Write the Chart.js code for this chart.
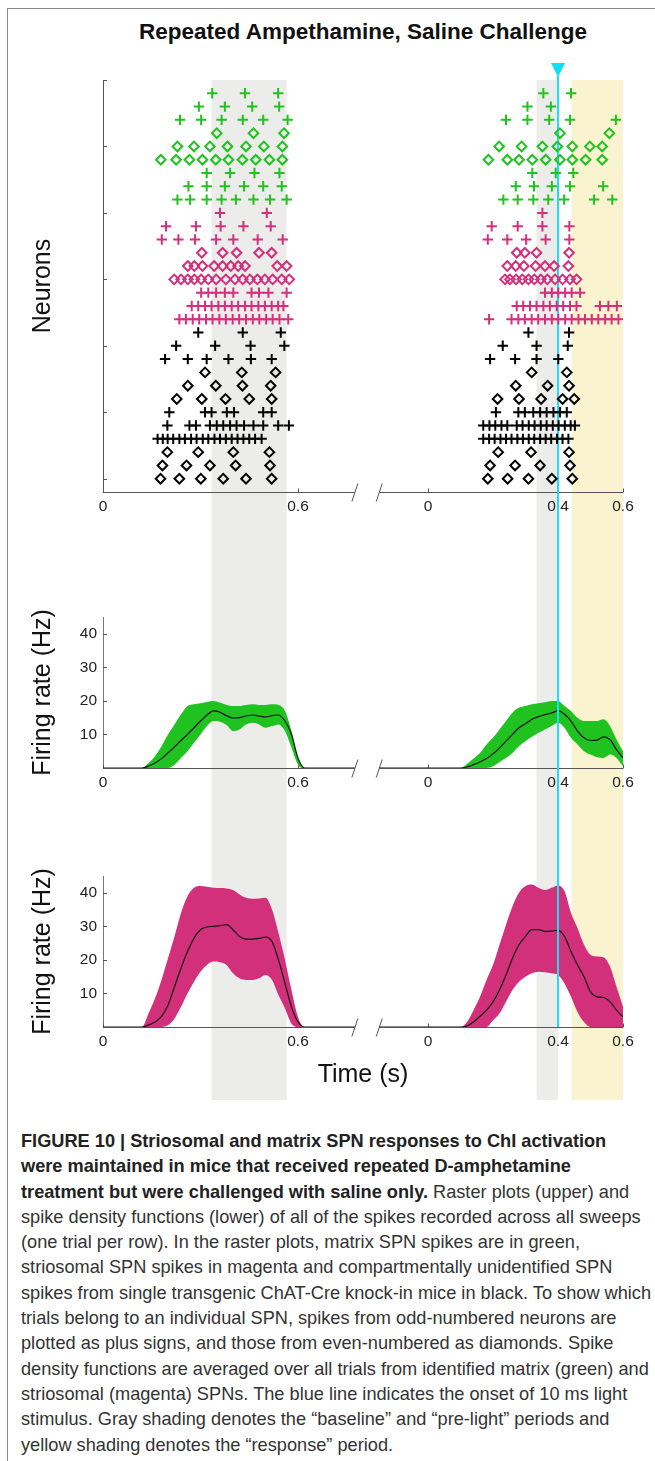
<!DOCTYPE html>
<html>
<head>
<meta charset="utf-8">
<title>Repeated Ampethamine, Saline Challenge</title>
<script src="https://cdn.jsdelivr.net/npm/chart.js@4.4.1/dist/chart.umd.min.js"></script>
<style>
  html, body { margin: 0; padding: 0; background: #fff; }
  #figure { position: relative; width: 655px; height: 1461px; overflow: hidden; font-family: "Liberation Sans", Arial, sans-serif; }
  #frame { position: absolute; left: 7px; top: 8px; width: 700px; height: 1500px; border-top: 1px solid #8a8a8a; border-left: 1px solid #8a8a8a; }
  #title { position: absolute; left: 103px; width: 520px; top: 19px; text-align: center; font-weight: bold; font-size: 22.5px; line-height: 26px; color: #111; }
  canvas { position: absolute; left: 0; }
  #caption { position: absolute; left: 21px; top: 1129px; font-size: 18.2px; line-height: 25.3px; color: #333; white-space: nowrap; }
  #caption b { color: #222; }
</style>
</head>
<body>
<div id="figure">
  <div id="frame"></div>
  <div id="title">Repeated Ampethamine, Saline Challenge</div>
  <canvas id="raster" width="655" height="510" style="top:50px"></canvas>
  <canvas id="matrixRate" width="655" height="240" style="top:560px"></canvas>
  <canvas id="strioRate" width="655" height="300" style="top:800px"></canvas>
  <div id="caption"><b>FIGURE 10 | Striosomal and matrix SPN responses to ChI activation<br>were maintained in mice that received repeated D-amphetamine<br>treatment but were challenged with saline only.</b> Raster plots (upper) and<br>spike density functions (lower) of all of the spikes recorded across all sweeps<br>(one trial per row). In the raster plots, matrix SPN spikes are in green,<br>striosomal SPN spikes in magenta and compartmentally unidentified SPN<br>spikes from single transgenic ChAT-Cre knock-in mice in black. To show which<br>trials belong to an individual SPN, spikes from odd-numbered neurons are<br>plotted as plus signs, and those from even-numbered as diamonds. Spike<br>density functions are averaged over all trials from identified matrix (green) and<br>striosomal (magenta) SPNs. The blue line indicates the onset of 10 ms light<br>stimulus. Gray shading denotes the “baseline” and “pre-light” periods and<br>yellow shading denotes the “response” period.</div>
</div>

<script>
// ---- data ----
const leftTicks = [0, 0.6];
const rightTicks = [0, 0.4, 0.6];
const rasterRowTicks = [0, 5, 10, 15, 20, 25, 30];
const rateTicks = [10, 20, 30, 40];

const baselineWindow = [0.334, 0.565];
const prelightWindow = [0.334, 0.4];
const responseWindow = [0.442, 0.6];
const lightOnset = 0.4;

// one entry per neuron, 3 trials (rows) each, top to bottom
const trialsPerNeuron = 3;
const neuronType = ['matrix', 'matrix', 'matrix', 'striosome', 'striosome', 'striosome',
  'unidentified', 'unidentified', 'unidentified', 'unidentified'];

// spike times (s), one array per row, left block
const spikesBaseline = [
  [0.336, 0.437, 0.539],
  [0.295, 0.375, 0.459, 0.542],
  [0.237, 0.302, 0.365, 0.430, 0.493, 0.568],
  [0.350, 0.463, 0.557],
  [0.229, 0.280, 0.329, 0.383, 0.440, 0.495, 0.552],
  [0.178, 0.225, 0.266, 0.306, 0.347, 0.386, 0.429, 0.470, 0.512, 0.552],
  [0.319, 0.391, 0.466, 0.543],
  [0.263, 0.319, 0.375, 0.434, 0.493, 0.550],
  [0.229, 0.268, 0.319, 0.365, 0.409, 0.463, 0.514, 0.565],
  [0.360, 0.504],
  [0.194, 0.286, 0.362, 0.432, 0.516],
  [0.181, 0.232, 0.283, 0.348, 0.401, 0.476, 0.553],
  [0.304, 0.368, 0.411, 0.480, 0.519],
  [0.261, 0.281, 0.306, 0.342, 0.368, 0.393, 0.416, 0.437, 0.536, 0.565],
  [0.219, 0.240, 0.261, 0.281, 0.302, 0.324, 0.348, 0.378, 0.406, 0.430, 0.452, 0.475, 0.498, 0.522, 0.550, 0.573],
  [0.302, 0.324, 0.348, 0.375, 0.401, 0.457, 0.480, 0.509, 0.565],
  [0.273, 0.293, 0.314, 0.334, 0.355, 0.375, 0.396, 0.416, 0.437, 0.457, 0.478, 0.498, 0.519, 0.539, 0.555],
  [0.235, 0.255, 0.276, 0.296, 0.317, 0.337, 0.358, 0.378, 0.399, 0.419, 0.440, 0.461, 0.481, 0.502, 0.522, 0.543, 0.570],
  [0.293, 0.430, 0.547],
  [0.225, 0.345, 0.454, 0.558],
  [0.191, 0.261, 0.319, 0.386, 0.455, 0.519],
  [0.314, 0.427, 0.531],
  [0.261, 0.347, 0.429, 0.516],
  [0.227, 0.304, 0.377, 0.450, 0.519],
  [0.204, 0.314, 0.334, 0.381, 0.403, 0.493, 0.519],
  [0.198, 0.266, 0.286, 0.329, 0.350, 0.370, 0.391, 0.411, 0.434, 0.463, 0.493, 0.539, 0.572],
  [0.168, 0.184, 0.199, 0.216, 0.235, 0.252, 0.271, 0.288, 0.307, 0.324, 0.343, 0.360, 0.378, 0.396, 0.414, 0.432, 0.450, 0.468, 0.488],
  [0.198, 0.293, 0.401, 0.512],
  [0.183, 0.257, 0.329, 0.408, 0.514],
  [0.177, 0.235, 0.301, 0.370, 0.440, 0.519]
];

// spike times (s), right block (light stimulus at 0.4 s)
const spikesChallenge = [
  [0.355, 0.440],
  [0.306, 0.378],
  [0.240, 0.306, 0.373, 0.437, 0.578],
  [0.406, 0.558],
  [0.219, 0.288, 0.352, 0.398, 0.444, 0.498, 0.536],
  [0.186, 0.244, 0.280, 0.321, 0.362, 0.406, 0.444, 0.485, 0.536],
  [0.321, 0.393, 0.447],
  [0.270, 0.326, 0.381, 0.437, 0.539],
  [0.232, 0.276, 0.324, 0.370, 0.419, 0.511, 0.567],
  [0.352],
  [0.196, 0.276, 0.352, 0.435],
  [0.184, 0.244, 0.302, 0.362, 0.435],
  [0.273, 0.298, 0.334, 0.434],
  [0.244, 0.270, 0.295, 0.331, 0.360, 0.388, 0.432],
  [0.237, 0.252, 0.271, 0.290, 0.309, 0.327, 0.347, 0.367, 0.391, 0.414, 0.437, 0.457],
  [0.360, 0.381, 0.401, 0.422, 0.442, 0.468],
  [0.273, 0.293, 0.314, 0.334, 0.355, 0.375, 0.396, 0.416, 0.437, 0.457, 0.529, 0.555, 0.581],
  [0.188, 0.257, 0.278, 0.298, 0.319, 0.339, 0.360, 0.381, 0.401, 0.422, 0.442, 0.463, 0.483, 0.504, 0.524, 0.545, 0.565, 0.586],
  [0.309, 0.434],
  [0.230, 0.334, 0.430],
  [0.191, 0.268, 0.334, 0.401],
  [0.319, 0.427],
  [0.270, 0.368, 0.434],
  [0.214, 0.280, 0.348, 0.414, 0.450],
  [0.209, 0.278, 0.298, 0.324, 0.345, 0.365, 0.386, 0.406, 0.427],
  [0.170, 0.189, 0.207, 0.226, 0.244, 0.273, 0.291, 0.310, 0.328, 0.347, 0.365, 0.384, 0.402, 0.421, 0.439, 0.452],
  [0.170, 0.188, 0.205, 0.223, 0.240, 0.257, 0.275, 0.292, 0.310, 0.327, 0.345, 0.362, 0.379, 0.397, 0.414, 0.432],
  [0.216, 0.317, 0.434],
  [0.191, 0.268, 0.345, 0.437],
  [0.184, 0.245, 0.309, 0.381, 0.444]
];

// spike density functions (Hz): mean and upper/lower band
const sdfTimeLeft = [0, 0.10, 0.12, 0.14, 0.16, 0.18, 0.20, 0.22, 0.24, 0.26, 0.28, 0.30, 0.32, 0.34, 0.36,
  0.38, 0.40, 0.42, 0.44, 0.46, 0.48, 0.50, 0.52, 0.54, 0.56, 0.58, 0.60, 0.62, 0.64, 0.775];
const sdfTimeRight = [-0.15, 0, 0.10, 0.12, 0.14, 0.16, 0.18, 0.20, 0.22, 0.24, 0.26, 0.28, 0.30, 0.32,
  0.34, 0.36, 0.38, 0.40, 0.42, 0.44, 0.46, 0.48, 0.50, 0.52, 0.54, 0.56, 0.58, 0.60];

const matrixMeanLeft = [0, 0, 0, 0.6, 1.5, 2.8, 4.5, 6.3, 8.2, 10, 12, 14, 15.8, 17, 16.6, 15.6, 14.9, 15, 15.5, 15.8, 15.5, 15.2, 15.6, 15.8, 14, 10, 3, 0, 0, 0];
const matrixUpperLeft = [0, 0, 0, 1.5, 3.5, 6.5, 10, 13, 16, 18.5, 19, 19.3, 19.7, 20, 19.5, 18.8, 18.5, 18.5, 18.8, 19, 18.8, 18.8, 19, 18.8, 17, 11, 3, 0, 0, 0];
const matrixLowerLeft = [0, 0, 0, 0, 0, 0, 0, 1, 3, 5, 7.5, 10, 12.5, 14, 13.8, 12.8, 11, 11.5, 13, 13.5, 13, 12, 12.5, 13, 11, 6, 1, 0, 0, 0];
const matrixMeanRight = [0, 0, 0, 0.3, 1, 1.8, 2.8, 4.2, 6, 8, 10, 12, 13.2, 14.5, 15.3, 15.9, 16.4, 17, 16, 14, 11, 9, 8.2, 8.3, 9.3, 8.5, 5.5, 3];
const matrixUpperRight = [0, 0, 0, 1.2, 2.8, 4.5, 7, 9, 11.5, 14, 16.5, 18, 18.5, 19, 19.3, 19.6, 20, 20, 18.5, 17, 15, 14, 14, 14, 14.5, 12.5, 8.5, 5];
const matrixLowerRight = [0, 0, 0, 0, 0, 0, 0, 0.5, 1.8, 3, 4.5, 6.5, 8, 9.3, 10.5, 11.5, 12.5, 13.5, 12, 9, 7, 5, 4, 3.2, 3, 4, 3, 0.5];

const strioMeanLeft = [0, 0, 0, 0.6, 1.5, 3.2, 6.5, 12, 17.5, 22.5, 26.5, 29, 29.8, 30, 30.2, 30.5, 29, 27, 26.2, 26.2, 26.4, 26.8, 25.5, 20, 13, 6, 1.5, 0, 0, 0];
const strioUpperLeft = [0, 0, 0, 4, 8.5, 14, 20.5, 27, 34, 39, 41.5, 42, 41.8, 41.5, 41.4, 41.3, 40.8, 39.5, 38.5, 38.2, 38.3, 38.5, 35, 28, 20, 11, 3, 0, 0, 0];
const strioLowerLeft = [0, 0, 0, 0, 0, 0, 0.5, 2.5, 6, 10, 13.5, 16.5, 18.5, 19.5, 19.3, 18.5, 16, 14.5, 14, 14, 14.5, 15.5, 14, 9.5, 5.5, 1, 0, 0, 0, 0];
const strioMeanRight = [0, 0, 0, 0.3, 1.5, 3.2, 5, 7.5, 11, 15.5, 20.5, 24.5, 27, 29, 29, 28.5, 28.6, 28.8, 27, 22.5, 18.5, 15, 10.5, 9, 8.8, 7.5, 5, 3];
const strioUpperRight = [0, 0, 0, 1.5, 5, 9, 14, 18.5, 24.5, 30.5, 36, 40, 42, 42.5, 41.5, 40.8, 41.5, 42.2, 40.5, 34, 29.5, 24.5, 21.5, 21, 20.8, 18, 12, 6];
const strioLowerRight = [0, 0, 0, 0, 0, 0, 0, 2, 4, 7.5, 11, 13.5, 15, 16, 16.5, 16.3, 16, 15.5, 13, 9, 4.5, 1.5, 0, 0, 0, 0, 0, 0];

// ---- layout of the broken time axis ----
const challengeShift = 1.0;          // right block drawn one second to the right
const axisBreak = [0.775, 0.85];     // where the "/ /" break sits
const rowAxisMax = 31;
const rateAxisMax = 45;

const GREEN = '#1fc21f', MAGENTA = '#d3307c';
const SHADE_GRAY = '#ececea', SHADE_YELLOW = '#f9f4cf', CYAN = '#22dcef', AXIS = '#555';
const typeColor = { matrix: GREEN, striosome: MAGENTA, unidentified: '#000' };

Chart.defaults.font.family = "'Liberation Sans', Arial, sans-serif";
Chart.defaults.color = '#222';

const xMax = rightTicks[rightTicks.length - 1] + challengeShift;
const xTickValues = leftTicks.concat(rightTicks.map(v => v + challengeShift));

function timeAxis(height, title) {
  return {
    type: 'linear', min: 0, max: xMax,
    grid: { display: false, drawTicks: false },
    border: { display: false },
    afterBuildTicks: s => { s.ticks = xTickValues.map(v => ({ value: v })); },
    afterFit: s => { s.height = height; },
    ticks: {
      autoSkip: false, maxRotation: 0, padding: 5, font: { size: 15.5 },
      callback: v => String(+(v >= challengeShift ? v - challengeShift : v).toFixed(2))
    },
    title: title
      ? { display: true, text: title, font: { size: 25 }, color: '#111', padding: { top: 0, bottom: 10 } }
      : { display: false }
  };
}

function yTitle(text) {
  return { display: true, text: text, font: { size: 25 }, color: '#111', padding: { top: 28, bottom: 0 } };
}

function drawOnset(chart, o) {
  const { ctx, chartArea: a, scales: { x } } = chart;
  const xp = Math.round(x.getPixelForValue(lightOnset + challengeShift));
  const y0 = o.first ? a.top - 4 : 0;
  const y1 = o.last ? a.bottom : chart.height;
  ctx.save();
  ctx.strokeStyle = CYAN;
  ctx.lineWidth = 2;
  ctx.beginPath();
  ctx.moveTo(xp, y0);
  ctx.lineTo(xp, y1);
  ctx.stroke();
  if (o.first) {
    ctx.fillStyle = '#0fe0f5';
    ctx.beginPath();
    ctx.moveTo(xp - 7, a.top - 17);
    ctx.lineTo(xp + 7, a.top - 17);
    ctx.lineTo(xp, a.top - 3);
    ctx.closePath();
    ctx.fill();
  }
  ctx.restore();
}

// shading, broken axis, inward ticks and the light-onset line
const decor = {
  id: 'decor',
  beforeDraw(chart, args, o) {
    const { ctx, chartArea: a, scales: { x } } = chart;
    const top = o.first ? a.top : 0;
    const px = v => x.getPixelForValue(v);
    ctx.save();
    [[baselineWindow, 0, SHADE_GRAY], [prelightWindow, challengeShift, SHADE_GRAY],
     [responseWindow, challengeShift, SHADE_YELLOW]].forEach(([w, s, c]) => {
      ctx.fillStyle = c;
      ctx.fillRect(px(w[0] + s), top, px(w[1] + s) - px(w[0] + s), chart.height - top);
    });
    ctx.restore();
  },
  beforeDatasetsDraw(chart, args, o) {
    const { ctx, chartArea: a, scales: { x, y } } = chart;
    const px = v => x.getPixelForValue(v);
    const yb = Math.round(a.bottom) + 0.5;
    ctx.save();
    ctx.strokeStyle = AXIS;
    ctx.lineWidth = 1;
    ctx.beginPath();
    ctx.moveTo(a.left, yb); ctx.lineTo(px(axisBreak[0]), yb);
    ctx.moveTo(px(axisBreak[1]), yb); ctx.lineTo(a.right, yb);
    axisBreak.forEach(b => { ctx.moveTo(px(b) - 3, yb + 9); ctx.lineTo(px(b) + 3, yb - 9); });
    xTickValues.forEach(v => { ctx.moveTo(Math.round(px(v)) + 0.5, yb); ctx.lineTo(Math.round(px(v)) + 0.5, yb - 4); });
    y.ticks.forEach(t => {
      const p = Math.round(y.getPixelForValue(t.value)) + 0.5;
      ctx.moveTo(a.left, p); ctx.lineTo(a.left + 4, p);
    });
    ctx.stroke();
    ctx.restore();
    if (o.onsetUnder) drawOnset(chart, o);
  },
  afterDatasetsDraw(chart, args, o) {
    if (!o.onsetUnder) drawOnset(chart, o);
  }
};

// ---- raster ----
// neurons are numbered within each group: odd numbers get plus signs, even numbers diamonds
const seenType = {};
const neuronNumber = neuronType.map(t => (seenType[t] = (seenType[t] || 0) + 1));

const rasterSets = neuronType.map((type, n) => {
  const pts = [];
  for (let k = 0; k < trialsPerNeuron; k++) {
    const row = n * trialsPerNeuron + k;
    spikesBaseline[row].forEach(t => pts.push({ x: t, y: row + 1 }));
    spikesChallenge[row].forEach(t => pts.push({ x: t + challengeShift, y: row + 1 }));
  }
  const plus = neuronNumber[n] % 2 === 1;
  return {
    data: pts,
    pointStyle: plus ? 'cross' : 'rectRot',
    pointRadius: plus ? 5.2 : 4.8,
    pointHoverRadius: plus ? 5.2 : 4.8,
    pointBorderWidth: 2,
    pointBorderColor: typeColor[type],
    borderColor: typeColor[type],
    pointBackgroundColor: 'rgba(0,0,0,0)',
    backgroundColor: 'rgba(0,0,0,0)'
  };
});

new Chart(document.getElementById('raster'), {
  type: 'scatter',
  data: { datasets: rasterSets },
  options: {
    responsive: false, animation: false, devicePixelRatio: 1,
    layout: { padding: { top: 30, right: 32, left: 0, bottom: 0 } },
    plugins: { legend: { display: false }, tooltip: { enabled: false }, decor: { first: true, onsetUnder: true } },
    scales: {
      x: timeAxis(68),
      y: {
        type: 'linear', reverse: true, min: 0, max: rowAxisMax,
        ticks: { display: false },
        grid: { display: false, drawTicks: false },
        border: { color: AXIS },
        afterBuildTicks: s => { s.ticks = rasterRowTicks.map(v => ({ value: v })); },
        afterFit: s => { s.width = 103; },
        title: yTitle('Neurons')
      }
    }
  },
  plugins: [decor]
});

// ---- spike density functions ----
function bandSets(times, shift, upper, lower, mean, color) {
  const pts = arr => arr.map((v, i) => ({ x: times[i] + shift, y: v }));
  const base = { pointRadius: 0, pointHoverRadius: 0, cubicInterpolationMode: 'monotone' };
  return [
    Object.assign({ data: pts(upper), borderWidth: 0, borderColor: 'rgba(0,0,0,0)', fill: false, order: 1 }, base),
    Object.assign({ data: pts(lower), borderWidth: 0, borderColor: 'rgba(0,0,0,0)', backgroundColor: color, fill: '-1', order: 1 }, base),
    Object.assign({ data: pts(mean), borderWidth: 1.2, borderColor: '#111', fill: false, order: 0 }, base)
  ];
}

function rateChart(id, datasets, padTop, axisHeight, xTitle, last) {
  return new Chart(document.getElementById(id), {
    type: 'line',
    data: { datasets: datasets },
    options: {
      responsive: false, animation: false, devicePixelRatio: 1,
      layout: { padding: { top: padTop, right: 32, left: 0, bottom: 0 } },
      plugins: { legend: { display: false }, tooltip: { enabled: false }, decor: { first: false, last: last } },
      scales: {
        x: timeAxis(axisHeight, xTitle),
        y: {
          type: 'linear', min: 0, max: rateAxisMax,
          grid: { display: false, drawTicks: false },
          border: { color: '#777' },
          afterBuildTicks: s => { s.ticks = rateTicks.map(v => ({ value: v })); },
          ticks: { padding: 6, font: { size: 15.5 } },
          afterFit: s => { s.width = 103; },
          title: yTitle('Firing rate (Hz)')
        }
      }
    },
    plugins: [decor]
  });
}

rateChart('matrixRate',
  bandSets(sdfTimeLeft, 0, matrixUpperLeft, matrixLowerLeft, matrixMeanLeft, GREEN)
    .concat(bandSets(sdfTimeRight, challengeShift, matrixUpperRight, matrixLowerRight, matrixMeanRight, GREEN)),
  57, 32, null, false);

rateChart('strioRate',
  bandSets(sdfTimeLeft, 0, strioUpperLeft, strioLowerLeft, strioMeanLeft, MAGENTA)
    .concat(bandSets(sdfTimeRight, challengeShift, strioUpperRight, strioLowerRight, strioMeanRight, MAGENTA)),
  76, 73, 'Time (s)', true);
</script>
</body>
</html>
